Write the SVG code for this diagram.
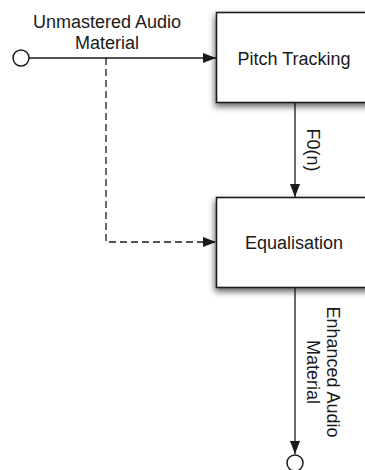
<svg xmlns="http://www.w3.org/2000/svg" width="365" height="470" viewBox="0 0 365 470">
  <style>
    .box { fill: #ffffff; stroke: #1a1a1a; stroke-width: 1.6; filter: url(#shadow); }
    .wire { fill: none; stroke: #1a1a1a; stroke-width: 1.3; }
    .dash { stroke-dasharray: 7 4; }
    .port { fill: #ffffff; stroke: #1a1a1a; stroke-width: 1.5; }
    text { font-family: "Liberation Sans", Arial, sans-serif; font-size: 18px; fill: #1a1a1a; }
  </style>
  <defs>
    <filter id="shadow" x="-20%" y="-20%" width="140%" height="150%">
      <feDropShadow dx="-1" dy="3.5" stdDeviation="3" flood-color="#000" flood-opacity="0.6"/>
    </filter>
    <marker id="arrow" viewBox="0 0 13 10" refX="13" refY="5" markerWidth="13" markerHeight="10" markerUnits="userSpaceOnUse" orient="auto">
      <path d="M0,0 L13,5 L0,10 Z" fill="#1a1a1a"/>
    </marker>
  </defs>

  <!-- connectors -->
  <g id="connectors">
    <line class="wire" x1="29" y1="58" x2="216" y2="58" marker-end="url(#arrow)"/>
    <polyline class="wire dash" points="106,58 106,242 216,242" marker-end="url(#arrow)"/>
    <line class="wire" x1="295" y1="102" x2="295" y2="197" marker-end="url(#arrow)"/>
    <line class="wire" x1="295" y1="288" x2="295" y2="454" marker-end="url(#arrow)"/>
  </g>

  <!-- input port -->
  <g id="input">
    <circle class="port" cx="21" cy="58" r="8"/>
    <text x="107" y="28" text-anchor="middle">Unmastered Audio</text>
    <text x="107" y="49" text-anchor="middle">Material</text>
  </g>

  <!-- pitch tracker -->
  <g id="pitch-tracking">
    <rect class="box" x="216.5" y="12.5" width="170" height="90"/>
    <text x="294" y="65" text-anchor="middle">Pitch Tracking</text>
  </g>

  <!-- F0 label on the link -->
  <g id="f0-label">
    <text transform="translate(307,150) rotate(90)" text-anchor="middle">F0(n)</text>
  </g>

  <!-- equaliser -->
  <g id="equalisation">
    <rect class="box" x="216.5" y="197.5" width="170" height="90"/>
    <text x="294" y="249" text-anchor="middle">Equalisation</text>
  </g>

  <!-- output port -->
  <g id="output">
    <circle class="port" cx="295" cy="463" r="8"/>
    <text transform="translate(327,372) rotate(90)" text-anchor="middle">Enhanced Audio</text>
    <text transform="translate(307,372) rotate(90)" text-anchor="middle">Material</text>
  </g>
</svg>
